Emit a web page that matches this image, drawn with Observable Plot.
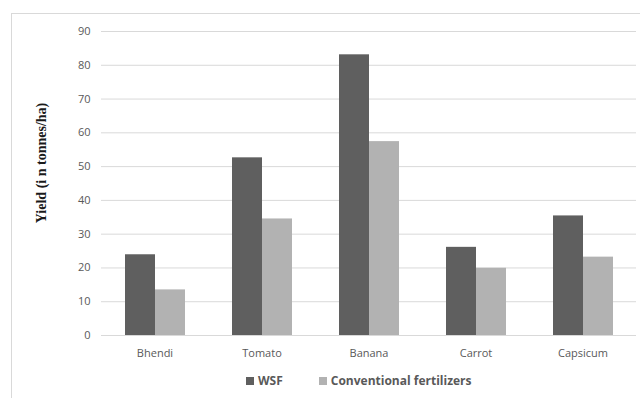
<!DOCTYPE html>
<html>
<head>
<meta charset="utf-8">
<script src="https://cdn.jsdelivr.net/npm/d3@7"></script>
<script src="https://cdn.jsdelivr.net/npm/@observablehq/plot@0.6"></script>
<style>
  html, body { margin: 0; padding: 0; background: #fff; }
  #wrap { position: relative; width: 640px; height: 398px; overflow: hidden; background: #fff; }
  #frame { position: absolute; left: 11px; top: 13px; width: 700px; height: 500px; border: 1px solid #d9d9d9; box-sizing: border-box; }
  #chart { position: absolute; left: 0; top: 0; }
  #ylabel { position: absolute; left: 42px; top: 163px; transform: translate(-50%, -50%) rotate(-90deg); white-space: nowrap;
            font-family: "Liberation Serif", "Times New Roman", serif; font-weight: bold; font-size: 14px; color: #1a1a1a; }
  #legend { position: absolute; left: 246px; top: 372px; display: flex; align-items: center; font-family: "Open Sans", sans-serif;
            font-weight: bold; font-size: 12px; color: #595959; }
  .item { display: flex; align-items: center; }
  .sw { width: 8px; height: 8px; margin-right: 4px; }
</style>
</head>
<body>
<div id="wrap">
  <div id="frame"></div>
  <div id="chart"></div>
  <div id="ylabel"></div>
  <div id="legend"></div>
</div>
<script>
const categories = ["Bhendi", "Tomato", "Banana", "Carrot", "Capsicum"];
const wsf = [23.9, 52.6, 83.1, 26.1, 35.4];
const conventional = [13.5, 34.5, 57.4, 19.9, 23.2];
const series = ["WSF", "Conventional fertilizers"];
const colors = ["#5f5f5f", "#b2b2b2"];
const yTicks = [0, 10, 20, 30, 40, 50, 60, 70, 80, 90];
const yLabel = "Yield (i n tonnes/ha)";

const data = categories.flatMap((c, i) => [
  {crop: c, series: series[0], value: wsf[i]},
  {crop: c, series: series[1], value: conventional[i]}
]);

const plot = Plot.plot({
  width: 640,
  height: 365,
  marginLeft: 100,
  marginRight: 3,
  marginTop: 31,
  marginBottom: 30,
  style: {fontFamily: "'Open Sans', sans-serif", fontSize: "11px", color: "#595959", background: "transparent", overflow: "visible"},
  fx: {domain: categories, padding: 0, label: null, axis: "bottom", tickSize: 0, tickPadding: 14},
  x: {domain: series, axis: null, paddingInner: 0, paddingOuter: 0.757},
  y: {domain: [0, 90], ticks: yTicks, tickSize: 0, tickPadding: 11, label: null},
  color: {domain: series, range: colors},
  marks: [
    Plot.ruleY(yTicks, {stroke: "#d9d9d9", strokeWidth: 1}),
    Plot.barY(data, {fx: "crop", x: "series", y: "value", fill: "series"})
  ]
});
document.getElementById("chart").appendChild(plot);
document.getElementById("ylabel").textContent = yLabel;

const legend = document.getElementById("legend");
series.forEach((s, i) => {
  const item = document.createElement("div");
  item.className = "item";
  if (i > 0) item.style.marginLeft = "36px";
  const sw = document.createElement("div");
  sw.className = "sw";
  sw.style.background = colors[i];
  const t = document.createElement("span");
  t.textContent = s;
  item.appendChild(sw);
  item.appendChild(t);
  legend.appendChild(item);
});
</script>
</body>
</html>
